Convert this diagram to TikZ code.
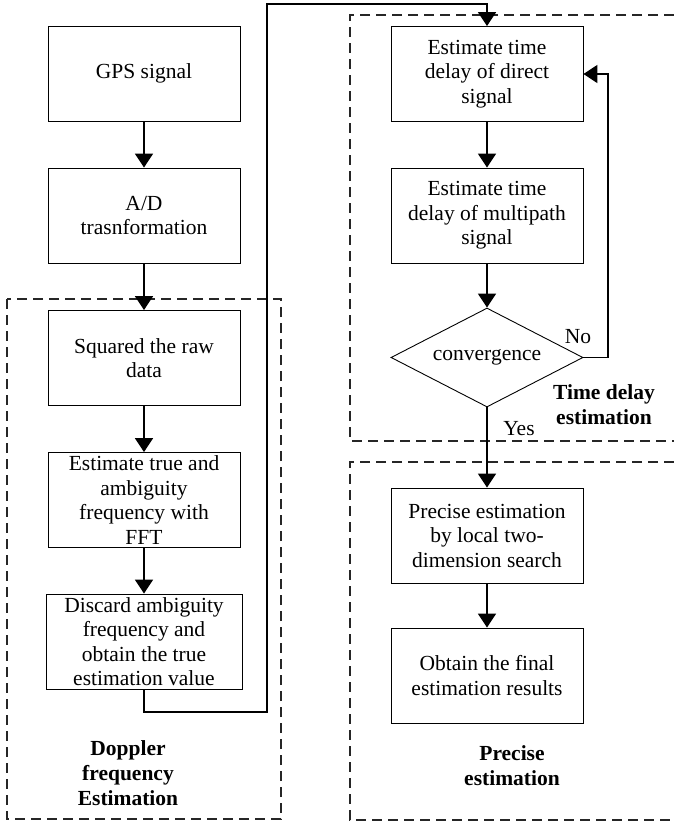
\documentclass[tikz,border=0pt]{standalone}
\usepackage{fontspec}
\setmainfont{Liberation Serif}
\usepackage{tikz}
\usetikzlibrary{arrows.meta,shapes.geometric}

\begin{document}
\begin{tikzpicture}[x=1pt, y=-1pt,
  every node/.style={font=\fontsize{21.5}{24.5}\selectfont},
  box/.style={draw, line width=0.9pt, minimum width=192pt, minimum height=95pt,
    inner sep=1pt, align=center},
  decision/.style={draw, line width=0.9pt, diamond, aspect=1.94,
    minimum width=192pt, minimum height=99pt, inner sep=0pt},
  group/.style={draw, line width=1.3pt, dash pattern=on 10pt off 6pt, black!85},
  flow/.style={line width=1.7pt, -{Triangle[width=18pt,length=14pt]}},
  grouplab/.style={font=\fontsize{21.5}{25}\selectfont\bfseries, align=center}]
\useasboundingbox (0,0) rectangle (674,822);
\clip (0,0) rectangle (674,822);

% dashed groups
\draw[group] (7,299) rectangle (281,819);
\draw[group] (690,15) -- (350,15) -- (350,441) -- (690,441);
\draw[group] (690,462) -- (350,462) -- (350,820) -- (690,820);

% left column
\node[box] (gps) at (144,73.5) {GPS signal};
\node[box] (adc) at (144,215.5) {A/D\\trasnformation};
\node[box] (square) at (144,358) {Squared the raw\\data};
\node[box] (fft) at (144,500) {Estimate true and\\ambiguity\\frequency with\\FFT};
\node[box, minimum width=196pt] (discard) at (144,641.5)
  {Discard ambiguity\\frequency and\\obtain the true\\estimation value};
\node[grouplab] (dopplerlab) at (128,773) {Doppler\\frequency\\Estimation};

% right column
\node[box] (direct) at (487,74) {Estimate time\\delay of direct\\signal};
\node[box] (multi) at (487,215.5) {Estimate time\\delay of multipath\\signal};
\node[decision] (conv) at (487,357.5) {convergence};
\node[box] (precise) at (487,535.5) {Precise estimation\\by local two-\\dimension search};
\node[box] (final) at (487,675.5) {Obtain the final\\estimation results};
\node[grouplab] (delaylab) at (604,405) {Time delay\\estimation};
\node[grouplab] (preciselab) at (512,766) {Precise\\estimation};
\node (no) at (578,337) {No};
\node (yes) at (519,429) {Yes};

% connectors
\coordinate (lowturn) at (267,712);
\coordinate (topturn) at (267,4);
\coordinate (loop) at (608,357.5);
\draw[flow] (gps) -- (adc);
\draw[flow] (adc) -- (square);
\draw[flow] (square) -- (fft);
\draw[flow] (fft) -- (discard);
\draw[flow] (discard.south) |- (lowturn) -- (topturn) -| (direct.north);
\draw[flow] (direct) -- (multi);
\draw[flow] (multi) -- (conv);
\draw[flow] (conv.east) -- (loop) |- (direct.east);
\draw[flow] (conv.south) -- (precise.north);
\draw[flow] (precise) -- (final);
\end{tikzpicture}
\end{document}
